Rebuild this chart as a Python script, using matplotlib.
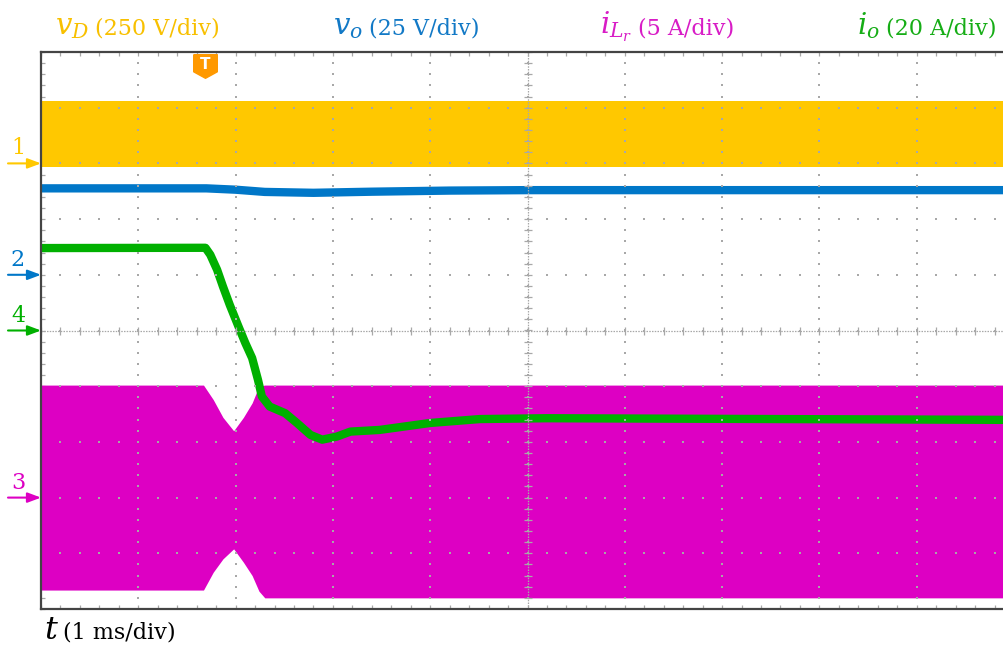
import numpy as np
import matplotlib
matplotlib.use("Agg")
import matplotlib.pyplot as plt
from matplotlib.transforms import blended_transform_factory
from matplotlib.ticker import MultipleLocator

# ---------------- waveform data (read in physical units) ----------------
# time base: 1 ms/div over 10 divisions
# CH1  diode voltage v_D  (250 V/div, ground marker at +3 div) - switching band
vd_time = [0.0, 10.0]
vd_upper = [280.0, 280.0]
vd_lower = [-14.0, -14.0]

# CH2  output voltage v_o (25 V/div, ground marker at +1 div)
vo_time = [0.0, 1.70, 2.00, 2.30, 2.80, 3.40, 4.20, 5.00, 10.0]
vo_volts = [38.8, 38.8, 38.2, 37.2, 36.8, 37.3, 37.8, 38.0, 38.0]

# CH3  resonant inductor current i_Lr envelope (5 A/div, ground marker at -3 div)
ilr_time = [0.0, 1.67, 1.77, 1.87, 1.98, 2.08, 2.17, 2.24, 2.30, 10.0]
ilr_upper = [10.1, 10.1, 8.8, 7.2, 6.0, 7.2, 8.5, 10.0, 10.1, 10.1]
ilr_lower = [-8.3, -8.3, -6.7, -5.5, -4.6, -5.8, -7.0, -8.4, -9.0, -9.0]

# CH4  output current i_o (20 A/div, ground marker at 0 div)
io_time = [0.0, 1.69, 1.74, 1.81, 1.87, 1.94, 2.03, 2.10, 2.17, 2.23, 2.27,
           2.35, 2.51, 2.63, 2.77, 2.89, 3.04, 3.18, 3.48, 4.00, 4.51, 5.20, 10.0]
io_amps = [29.6, 29.7, 27.2, 21.8, 15.8, 9.2, 1.4, -4.5, -9.9, -17.7, -23.7,
           -27.3, -29.7, -33.2, -37.5, -39.2, -38.1, -36.3, -35.7, -33.2, -31.8,
           -31.5, -32.1]

trigger_time = 1.69

# channel settings
ch_numbers = ["1", "2", "3", "4"]
ch_offsets = [3.0, 1.0, -3.0, 0.0]       # div
ch_scales = [250.0, 25.0, 5.0, 20.0]     # units/div
ch_colors = ["#FFC800", "#0077C8", "#DD00C3", "#00B000"]
label_colors = ["#F8C000", "#1279C6", "#D81CC6", "#16AD16"]


def to_div(values, ch):
    return ch_offsets[ch] + np.asarray(values, dtype=float) / ch_scales[ch]


plt.rcParams["mathtext.fontset"] = "dejavuserif"

W, H = 1004, 646
fig = plt.figure(figsize=(W / 100, H / 100), dpi=100)
fig.patch.set_facecolor("white")

# screen area: 10 x 10 divisions, right part runs past the figure edge
left, top, right, bottom = 41, 52, 1014, 609
ax = fig.add_axes([left / W, (H - bottom) / H, (right - left) / W, (bottom - top) / H])
ax.set_xlim(0, 10)
ax.set_ylim(-5, 5)
ax.set_facecolor("white")

# traces
ax.fill_between(vd_time, to_div(vd_lower, 0), to_div(vd_upper, 0),
                color=ch_colors[0], lw=0, zorder=2)
ax.plot(vo_time, to_div(vo_volts, 1), color=ch_colors[1], lw=6,
        solid_capstyle="butt", zorder=3)
ax.fill_between(ilr_time, to_div(ilr_lower, 2), to_div(ilr_upper, 2),
                color=ch_colors[2], lw=0, zorder=4)
ax.plot(io_time, to_div(io_amps, 3), color=ch_colors[3], lw=6,
        solid_capstyle="butt", solid_joinstyle="round", zorder=5)

# graticule
dot_c = "#a8a8a8"
fine_x = np.arange(0, 10.001, 0.2)
fine_y = np.arange(-5, 5.001, 0.2)
gx, gy = np.meshgrid(fine_x, np.arange(-5, 6))
ax.scatter(gx.ravel(), gy.ravel(), s=2.2, marker="s", c=dot_c, lw=0, zorder=10)
gx, gy = np.meshgrid(np.arange(0, 11), fine_y)
ax.scatter(gx.ravel(), gy.ravel(), s=2.2, marker="s", c=dot_c, lw=0, zorder=10)
ax.plot([0, 10], [0, 0], color=dot_c, lw=0.9, ls=(0, (1.2, 1.0)), zorder=10)
ax.plot([5, 5], [-5, 5], color=dot_c, lw=0.9, ls=(0, (1.2, 1.0)), zorder=10)
ax.scatter(fine_x, np.zeros_like(fine_x), marker="|", s=30, c=dot_c, lw=0.9, zorder=10)
ax.scatter(np.full_like(fine_y, 5.0), fine_y, marker="_", s=30, c=dot_c, lw=0.9, zorder=10)

ax.xaxis.set_major_locator(MultipleLocator(1))
ax.xaxis.set_minor_locator(MultipleLocator(0.2))
ax.yaxis.set_major_locator(MultipleLocator(1))
ax.yaxis.set_minor_locator(MultipleLocator(0.2))
ax.tick_params(which="both", direction="in", length=3, width=0.9, color=dot_c,
               top=True, bottom=True, left=True, right=False,
               labelbottom=False, labelleft=False)
for side in ("left", "top", "bottom"):
    ax.spines[side].set_color("#444444")
    ax.spines[side].set_linewidth(1.6)
    ax.spines[side].set_zorder(12)
ax.spines["right"].set_visible(False)

# trigger position marker
trig_tr = blended_transform_factory(ax.transData, ax.transAxes)
tag = [(-1, 1), (1, 1), (1, -0.45), (0, -1), (-1, -0.45), (-1, 1)]
ax.plot([trigger_time], [0.974], marker=tag, ms=17, color="#FF9900", mec="#FF9900",
        transform=trig_tr, clip_on=False, zorder=13)
ax.text(trigger_time, 0.977, "T", transform=trig_tr, color="white", ha="center",
        va="center", fontsize=11, fontweight="bold", family="DejaVu Sans", zorder=14)

# channel ground markers
mark_tr = blended_transform_factory(ax.transAxes, ax.transData)
for num, off, col in zip(ch_numbers, ch_offsets, ch_colors):
    ax.annotate("", xy=(0, off), xycoords=mark_tr, xytext=(-33, 0),
                textcoords="offset pixels", annotation_clip=False,
                arrowprops=dict(arrowstyle="-|>,head_length=0.8,head_width=0.3",
                                color=col, lw=1.5, mutation_scale=10,
                                shrinkA=0, shrinkB=0))
    ax.annotate(num, xy=(0, off), xycoords=mark_tr, xytext=(-23, 4),
                textcoords="offset pixels", annotation_clip=False, color=col,
                ha="center", va="bottom", fontsize=16, family="DejaVu Serif")


# channel labels: symbol followed by the scale text
def px(x, y):
    return x / W, 1 - y / H


renderer = fig.canvas.get_renderer()


def label(x_sym, y_base, sym, txt, color, sym_size=21, txt_size=16, gap=6):
    s = fig.text(*px(x_sym, y_base), sym, color=color, fontsize=sym_size,
                 ha="left", va="baseline")
    x_end = s.get_window_extent(renderer).x1
    fig.text((x_end + gap) / W, 1 - y_base / H, txt, color=color,
             fontsize=txt_size, family="DejaVu Serif", ha="left", va="baseline")


label(55, 34, r"$v_D$", "(250 V/div)", label_colors[0])
label(333, 34, r"$v_o$", "(25 V/div)", label_colors[1])
label(600, 34, r"$i_{L_r}$", "(5 A/div)", label_colors[2])
label(857, 34, r"$i_o$", "(20 A/div)", label_colors[3])
label(44, 639, r"$t$", "(1 ms/div)", "black", sym_size=23, gap=4)

fig.savefig("out.png", dpi=100)
